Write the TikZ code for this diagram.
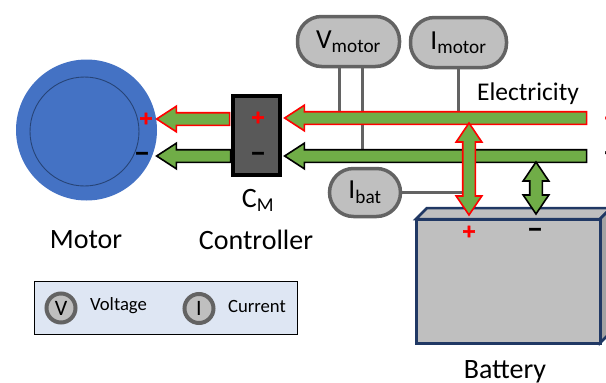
\documentclass[tikz,border=0pt]{standalone}
\usepackage{fontspec}
\setmainfont{Carlito}
\newfontfamily\signfont[FakeBold=3]{DejaVu Sans Bold}
\usetikzlibrary{shapes,arrows,calc,positioning,backgrounds}
\definecolor{motorblue}{HTML}{4472C4}
\definecolor{flowgreen}{HTML}{70AD47}
\definecolor{batnavy}{HTML}{203864}
\definecolor{probegray}{HTML}{636363}
\definecolor{panelgray}{HTML}{BFBFBF}
\definecolor{legendblue}{HTML}{DEE6F3}
\tikzset{
	flow/.style = {single arrow, fill=flowgreen, line width=1.6pt, inner sep=5.5pt, outer sep=0pt,
		single arrow head extend=6.5pt, single arrow tip angle=66, shape border rotate=180},
	both/.style = {double arrow, fill=flowgreen, line width=1.6pt, inner sep=5.5pt, outer sep=0pt,
		double arrow head extend=6.5pt, double arrow tip angle=68, shape border rotate=90},
	probe/.style = {rectangle, rounded corners=24pt, draw=probegray, fill=panelgray, line width=3.5pt, font=\fontsize{27.5}{27.5}\selectfont},
	probeline/.style = {draw=probegray, line width=3pt},
	keydot/.style = {circle, draw=probegray, fill=panelgray, line width=4pt, minimum size=29pt, inner sep=0pt, font=\fontsize{22}{22}\selectfont},
	caption/.style = {font=\fontsize{28}{28}\selectfont},
	keytext/.style = {font=\fontsize{18.7}{18.7}\selectfont, anchor=west},
	plus/.style = {text=red, font=\signfont\fontsize{18}{18}\selectfont, inner sep=0pt},
	minus/.style = {text=black, font=\signfont\fontsize{18}{18}\selectfont, inner sep=0pt}
}
\begin{document}
\begin{tikzpicture}[x=1pt,y=-1pt]
\useasboundingbox (0,0) rectangle (606,383);
\clip (0,0) rectangle (606,383);

\node[circle, fill=motorblue, minimum size=141pt, inner sep=0pt](motor) at (86.5,130){};
\node[circle, draw=batnavy!80!motorblue, line width=0.9pt, minimum size=109pt, inner sep=0pt] (rotor) at (84.5,131.5){};
\node[rectangle, draw=black, fill=black!65, line width=3.5pt, minimum width=47pt, minimum height=79pt, inner sep=0pt](ctrl) at (256.5,135.5){};

\node[probe, minimum width=102pt, minimum height=50pt](vmotor) at (348.5,41.5){V\textsubscript{motor}};
\node[probe, minimum width=96pt, minimum height=50pt](imotor) at (458.5,42.5){I\textsubscript{motor}};
\node[probe, minimum width=71pt, minimum height=48pt](ibat) at (365,192.5){I\textsubscript{bat}};

\node[flow, draw=red, minimum height=73pt](outplus) at (198,119){};
\node[flow, draw=black, minimum height=74pt](outminus) at (198.5,156){};
\node[flow, draw=red, minimum height=302pt](busplus) at (440.5,118){};
\node[flow, draw=black, minimum height=302pt](busminus) at (440.5,156){};

\draw[fill=panelgray, draw=batnavy, line width=2.5pt] (416,219) -- (427,208) -- (611,208) -- (600,219) -- cycle;
\draw[fill=panelgray!85!black, draw=batnavy, line width=2.5pt] (600,219) -- (611,208) -- (611,332) -- (600,343) -- cycle;
\node[rectangle, draw=batnavy, fill=panelgray, line width=3pt, minimum width=184pt, minimum height=124pt, inner sep=0pt](battery) at (508,281){};

\node[both, draw=red, minimum height=92pt](linkplus) at (469,169){};
\node[both, draw=black, minimum height=52pt](linkminus) at (536,188){};

\coordinate (vleft) at ($(vmotor.south)+(-9.5,0)$);
\coordinate (vright) at ($(vmotor.south)+(13.5,0)$);
\begin{scope}[on background layer]
\path[probeline] (vleft) edge (vleft |- busplus)
	  (vright) edge (vright |- busminus)
	  (imotor.south) edge (imotor.south |- busplus)
	  (ibat.east) edge (linkplus.center |- ibat.east);
\end{scope}

\node[plus] (motorplus) at (146,118.5){+};
\node[minus] (motorminus) at (142,155.5){\textminus};
\node[plus] (ctrlplus) at (258,117.5){+};
\node[minus] (ctrlminus) at (258,155.5){\textminus};
\node[plus] (batplus) at (469,231.5){+};
\node[minus] (batminus) at (535,231.5){\textminus};
\node[plus] (edgeplus) at (611,118){+};
\node[minus] (edgeminus) at (611,155){\textminus};

\node[caption](cmlabel) at (258,200){C\textsubscript{M}};
\node[caption](motorlabel) at (86,240){Motor};
\node[caption](ctrllabel) at (256,240){Controller};
\node[caption](batlabel) at (505,372){Battery};
\node[caption,font=\fontsize{25.5}{25.5}\selectfont](flowlabel) at (528,94){Electricity};

\node[rectangle, draw=black, fill=legendblue, line width=1.5pt, minimum width=263pt, minimum height=53pt, inner sep=0pt](legend) at (166,308){};
\node[keydot](vkey) at (61,308){V};
\node[keytext, right=9pt of vkey, yshift=2pt](vtext){Voltage};
\node[keydot](ikey) at (199,308.5){I};
\node[keytext, right=9pt of ikey, yshift=2pt](itext){Current};
\end{tikzpicture}
\end{document}
